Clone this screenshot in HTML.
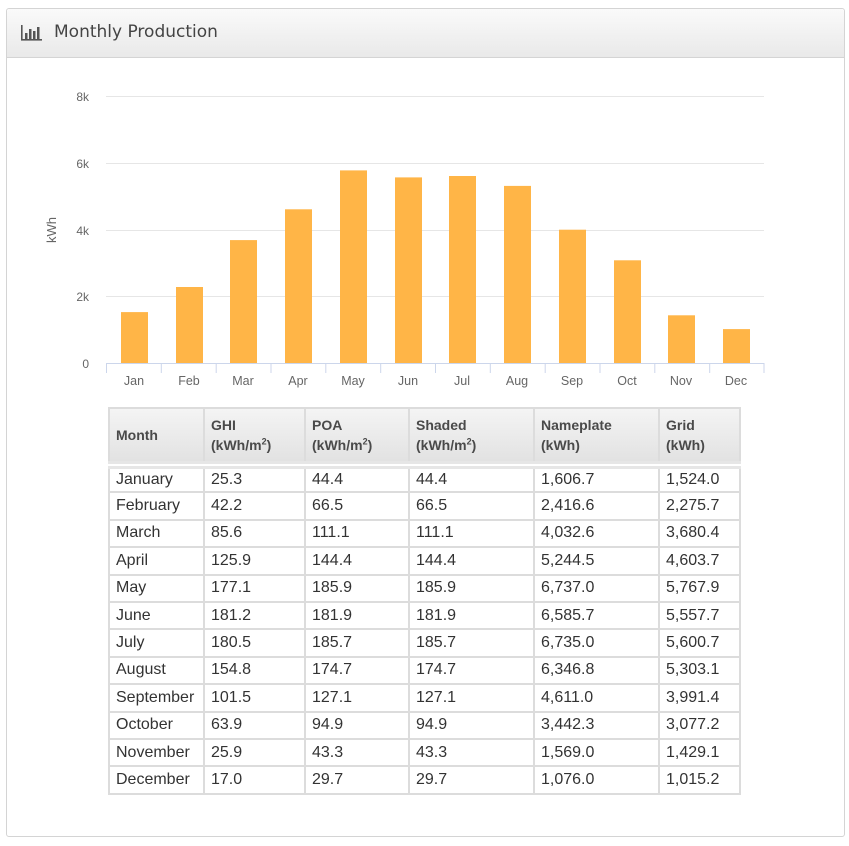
<!DOCTYPE html>
<html><head><meta charset="utf-8"><style>
body{margin:0;background:#fff;width:849px;height:846px;position:relative;font-family:"Liberation Sans","DejaVu Sans",sans-serif;overflow:hidden}
.panel{position:absolute;left:6px;top:8px;width:837px;height:827px;border:1px solid #d4d4d4;border-radius:3px}
.hdr{position:absolute;left:0;top:0;width:837px;height:48px;background:linear-gradient(#fafafa,#e9e9e9);border-bottom:1px solid #d4d4d4;border-radius:3px 3px 0 0}
.hdr span{position:absolute;left:47px;top:13px;color:#444;font-family:"DejaVu Sans",sans-serif;font-size:17px}
table{position:absolute;left:108px;top:407px;border-collapse:collapse;font-size:16px;color:#333;table-layout:fixed;width:631px}
td,th{border:2px solid #dcdcdc;padding:0 0 0 6px;text-align:left;vertical-align:middle;overflow:hidden;white-space:nowrap}
th{background:linear-gradient(#f4f4f4,#e2e2e2);font-weight:bold;font-size:14px;color:#4a4a4a;line-height:20px;border-bottom:8px double #e6e6e6}
tr.h{height:57px}
tr{height:27.4px}
td{line-height:22px}
sup{font-size:9px;line-height:0}
</style></head><body>
<div class="panel"><div class="hdr">
<svg style="position:absolute;left:14px;top:15px" width="22" height="18"><rect x="0" y="1" width="1.6" height="15" fill="#555"/><rect x="0" y="15" width="21" height="1.6" fill="#555"/><rect x="4" y="9" width="2.5" height="6" fill="#555"/><rect x="8" y="5" width="2.5" height="10" fill="#555"/><rect x="12" y="7" width="2.5" height="8" fill="#555"/><rect x="16" y="3" width="2.5" height="12" fill="#555"/></svg>
<span>Monthly Production</span></div></div>
<svg style="position:absolute;left:0;top:0" width="849" height="400" font-family="Liberation Sans,sans-serif" font-size="12" fill="#666">
<g stroke="#e6e6e6" stroke-width="1">
<line x1="106" x2="764" y1="96.5" y2="96.5"/><line x1="106" x2="764" y1="163.5" y2="163.5"/><line x1="106" x2="764" y1="230.5" y2="230.5"/><line x1="106" x2="764" y1="296.5" y2="296.5"/></g>
<g text-anchor="end"><text x="89" y="101">8k</text><text x="89" y="168">6k</text><text x="89" y="235">4k</text><text x="89" y="301">2k</text><text x="89" y="368">0</text></g>
<text transform="translate(56,230) rotate(-90)" text-anchor="middle" font-size="13">kWh</text>
<g fill="#ffb547">
<rect x="121" y="312.1" width="27" height="50.9"/>
<rect x="176" y="287.0" width="27" height="76"/>
<rect x="230" y="240.1" width="27" height="122.9"/>
<rect x="285" y="209.3" width="27" height="153.7"/>
<rect x="340" y="170.4" width="27" height="192.6"/>
<rect x="395" y="177.4" width="27" height="185.6"/>
<rect x="449" y="176.0" width="27" height="187"/>
<rect x="504" y="185.9" width="27" height="177.1"/>
<rect x="559" y="229.7" width="27" height="133.3"/>
<rect x="614" y="260.3" width="27" height="102.7"/>
<rect x="668" y="315.3" width="27" height="47.7"/>
<rect x="723" y="329.1" width="27" height="33.9"/>
</g>
<line x1="106" x2="764" y1="363.5" y2="363.5" stroke="#ccd6eb"/>
<g stroke="#ccd6eb">
<line x1="106.5" x2="106.5" y1="363" y2="373"/><line x1="161.3" x2="161.3" y1="363" y2="373"/><line x1="216.2" x2="216.2" y1="363" y2="373"/><line x1="271" x2="271" y1="363" y2="373"/><line x1="325.8" x2="325.8" y1="363" y2="373"/><line x1="380.7" x2="380.7" y1="363" y2="373"/><line x1="435.5" x2="435.5" y1="363" y2="373"/><line x1="490.3" x2="490.3" y1="363" y2="373"/><line x1="545.2" x2="545.2" y1="363" y2="373"/><line x1="600" x2="600" y1="363" y2="373"/><line x1="654.8" x2="654.8" y1="363" y2="373"/><line x1="709.7" x2="709.7" y1="363" y2="373"/><line x1="764" x2="764" y1="363" y2="373"/></g>
<g text-anchor="middle" font-size="12.5"><text x="134" y="385">Jan</text><text x="189" y="385">Feb</text><text x="243" y="385">Mar</text><text x="298" y="385">Apr</text><text x="353" y="385">May</text><text x="408" y="385">Jun</text><text x="462" y="385">Jul</text><text x="517" y="385">Aug</text><text x="572" y="385">Sep</text><text x="627" y="385">Oct</text><text x="681" y="385">Nov</text><text x="736" y="385">Dec</text></g>
</svg>
<table>
<colgroup><col style="width:95px"><col style="width:101px"><col style="width:104px"><col style="width:125px"><col style="width:125px"><col style="width:81px"></colgroup>
<tr class="h"><th>Month</th><th>GHI<br>(kWh/m<sup>2</sup>)</th><th>POA<br>(kWh/m<sup>2</sup>)</th><th>Shaded<br>(kWh/m<sup>2</sup>)</th><th>Nameplate<br>(kWh)</th><th>Grid<br>(kWh)</th></tr>
<tr><td>January</td><td>25.3</td><td>44.4</td><td>44.4</td><td>1,606.7</td><td>1,524.0</td></tr>
<tr><td>February</td><td>42.2</td><td>66.5</td><td>66.5</td><td>2,416.6</td><td>2,275.7</td></tr>
<tr><td>March</td><td>85.6</td><td>111.1</td><td>111.1</td><td>4,032.6</td><td>3,680.4</td></tr>
<tr><td>April</td><td>125.9</td><td>144.4</td><td>144.4</td><td>5,244.5</td><td>4,603.7</td></tr>
<tr><td>May</td><td>177.1</td><td>185.9</td><td>185.9</td><td>6,737.0</td><td>5,767.9</td></tr>
<tr><td>June</td><td>181.2</td><td>181.9</td><td>181.9</td><td>6,585.7</td><td>5,557.7</td></tr>
<tr><td>July</td><td>180.5</td><td>185.7</td><td>185.7</td><td>6,735.0</td><td>5,600.7</td></tr>
<tr><td>August</td><td>154.8</td><td>174.7</td><td>174.7</td><td>6,346.8</td><td>5,303.1</td></tr>
<tr><td>September</td><td>101.5</td><td>127.1</td><td>127.1</td><td>4,611.0</td><td>3,991.4</td></tr>
<tr><td>October</td><td>63.9</td><td>94.9</td><td>94.9</td><td>3,442.3</td><td>3,077.2</td></tr>
<tr><td>November</td><td>25.9</td><td>43.3</td><td>43.3</td><td>1,569.0</td><td>1,429.1</td></tr>
<tr><td>December</td><td>17.0</td><td>29.7</td><td>29.7</td><td>1,076.0</td><td>1,015.2</td></tr>
</table>
</body></html>
